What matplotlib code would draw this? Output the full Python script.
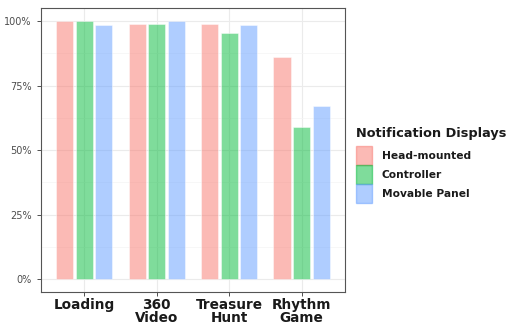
import numpy as np
from matplotlib import pyplot as plt
from matplotlib.patches import Patch
from matplotlib.ticker import MultipleLocator

categories = ["Loading", "360\nVideo", "Treasure\nHunt", "Rhythm\nGame"]
series = ["Head-mounted", "Controller", "Movable Panel"]
head_mounted = [100, 99, 99, 86]
controller = [100, 99, 95.5, 59]
movable_panel = [98.5, 100, 98.5, 67.2]
values = [head_mounted, controller, movable_panel]
colors = ["#F8766D", "#00BA38", "#619CFF"]

fig = plt.figure(figsize=(5.18, 3.24), dpi=100)
ax = fig.add_axes([0.079, 0.099, 0.587, 0.876])

x = np.arange(1, len(categories) + 1)
offset = 0.27
width = 0.235
for i, (vals, c) in enumerate(zip(values, colors)):
    ax.bar(x + (i - 1) * offset, vals, width, color=c, alpha=0.5,
           edgecolor="white", linewidth=0.6, zorder=3)

ax.set_xlim(0.4, 4.6)
ax.set_ylim(-5, 105)
ax.yaxis.set_minor_locator(MultipleLocator(12.5))
ax.set_yticks([0, 25, 50, 75, 100])
ax.set_yticklabels(["0%", "25%", "50%", "75%", "100%"], color="#4d4d4d", fontsize=7)
ax.set_xticks(x)
ax.set_xticklabels(categories, fontsize=9.8, fontweight="bold", color="#1a1a1a",
                   linespacing=0.88)
ax.grid(which="major", color="#ebebeb", linewidth=0.8, zorder=0)
ax.grid(which="minor", axis="y", color="#f4f4f4", linewidth=0.5, zorder=0)
ax.tick_params(axis="both", which="major", length=3, color="#333333", width=0.6)
ax.tick_params(axis="x", pad=1.5)
ax.tick_params(axis="y", which="minor", length=0)
for s in ax.spines.values():
    s.set_color("#555555")
    s.set_linewidth(0.8)

# legend title drawn separately to get the ggplot-like gap
fig.text(0.687, (324 - 133) / 324, "Notification Displays", fontsize=9.3,
         fontweight="bold", color="#1a1a1a", va="center", ha="left")
handles = [Patch(facecolor=c, edgecolor=c, alpha=0.5, label=s) for s, c in zip(series, colors)]
leg = fig.legend(handles=handles, loc="upper left",
                 bbox_to_anchor=(0.687, (324 - 146) / 324), frameon=False, fontsize=7.7,
                 handlelength=1.5, handleheight=2.35,
                 handletextpad=0.9, labelspacing=0.0, borderpad=0,
                 borderaxespad=0)
for t in leg.get_texts():
    t.set_fontweight("bold")
    t.set_color("#1a1a1a")

fig.savefig("out.png", dpi=100)
